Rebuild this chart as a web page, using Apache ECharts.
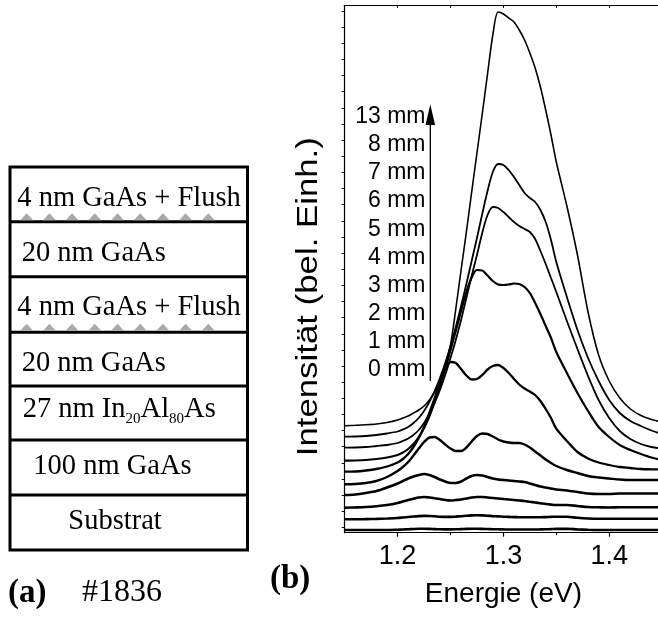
<!DOCTYPE html>
<html><head><meta charset="utf-8">
<script src="https://cdn.jsdelivr.net/npm/echarts@6/dist/echarts.min.js"></script>
<style>html,body{margin:0;padding:0;background:#fff}#c{width:658px;height:617px}</style>
</head><body><div id="c"></div>
<script>
// ---------- data ----------
const energy = [1.15,1.16,1.17,1.18,1.19,1.20,
  1.205,1.21,1.215,1.22,1.225,1.23,1.235,1.24,1.245,1.25,
  1.255,1.26,1.265,1.27,1.275,1.28,1.285,1.29,1.295,1.30,
  1.305,1.31,1.315,1.32,1.325,1.33,1.335,1.34,1.345,1.35,
  1.36,1.37,1.38,1.39,1.40,1.41,1.42,1.43,1.44,1.45];

const pl0mm = [0,0,0,0,0,0.3, 0.5,0.7,1,1.2,1.2,1.1,0.9,0.7,0.6,0.6, 0.7,0.9,1.1,1.2,1.2,1.1,1,0.8,0.7,0.6, 0.5,0.5,0.5,0.5,0.5,0.5,0.6,0.7,0.9,1.1, 1.2,0.6,0.2,0,0,0,0,0,0,0];
const pl1mm = [0,0,0.2,0.4,0.8,1.3, 1.8,2.3,2.8,3.2,3.4,3.3,3,2.6,2.4,2.4, 2.7,3.1,3.6,3.9,4,3.9,3.6,3.2,2.9,2.6, 2.4,2.2,2.1,2,2,2,2.1,2.2,2.4,2.6, 2.5,1.5,0.8,0.5,0.5,0.5,0.5,0.5,0.5,0.5];
const pl2mm = [0,0.3,0.7,1.5,2.7,4.7, 6.2,7.7,9,10.2,10.7,10.2,9.5,8.7,7.7,7.2, 7.7,8.2,9.2,10.2,10.7,10.7,10.2,9.7,9.2,8.7, 8.2,7.7,7.2,6.7,5.9,5.2,4.5,3.7,3.1,2.7, 2.7,1.7,0.7,0.4,0.2,0.5,0.5,0.5,0.5,0.5];
const pl3mm = [0,0.5,2,4,7.5,11.5, 14,16.5,18.5,20,21,20,18,15.5,13.5,12, 12,13.5,16.5,19,20,19.5,18,16.5,15.5,15, 14.5,14,13.5,13,11.5,10,8.5,7.5,6.5,5.5, 4.5,3,1.5,1,1,1.5,1.5,1.5,1.5,1.5];
const pl4mm = [0,0.3,1.3,3.3,7.3,13.3, 17.3,22.3,28.8,35.8,42.3,46.8,47.3,44.3,39.8,35.8, 33.3,33.3,36.8,42.8,48.3,50.8,50.3,47.8,44.8,42.8, 41.8,41.3,41.3,39.8,36.8,32.8,28.8,24.8,21.3,18.3, 14.3,11.3,8.3,6.8,5.8,4.8,4.3,4.3,4.3,4.3];
const pl5mm = [0,0.2,1.2,2.7,5.2,9.2, 12.7,17.7,24.7,33.7,44.7,58.7,73.7,89.7,102.7,109.7, 108.7,102.7,96.2,92.2,92.7,96.7,102.2,105.7,106.7,103.7, 98.7,92.7,87.2,83.2,80.2,76.7,70.7,62.7,53.7,43, 30.7,19.7,13.2,9.2,6.7,4.7,3.7,2.7,2.4,2.2];
const pl6mm = [0,0.2,0.7,1.7,3.2,5.7, 8.2,11.7,16.7,23.7,32.7,44.2,58.7,74.7,91.7,110.7, 129.7,149.7,168.7,183.2,190.7,190.2,185.2,179.7,176.2,175.7, 176.2,177.2,176.7,173.7,167.7,157.7,146.7,134.7,122.7,108.7, 87.7,67.7,49.7,33.7,23.7,15.7,10.7,6.7,3.2,0.7];
const pl7mm = [0,0.2,0.7,1.7,2.7,4.7, 6.7,9.2,12.7,17.7,24.7,33.7,44.7,57.7,72.7,89.7, 107.7,127.7,149.7,171.7,192.7,214.7,232.7,240.7,239.7,235.7, 230.7,225.7,221.7,218.7,215.7,208.7,196.7,183.7,169.7,155.7, 126.7,98.7,71.7,47.7,29.7,16.7,8.7,3.7,0.7,-0.8];
const pl8mm = [0,0.2,0.7,1.7,3.2,5.2, 7.2,9.7,13.7,18.7,25.7,34.7,45.7,58.7,73.7,90.7, 109.7,130.7,152.7,175.7,198.7,222.7,245.7,264.7,272.7,271.7, 266.7,259.7,251.7,243.7,238.7,234.7,226.7,214.7,196.7,174.7, 139.7,106.7,78.7,55.7,36.7,23.7,15.7,10.7,6.2,2.7];
const pl13mm = [0,0.4,0.9,1.7,3.2,5.7, 7.7,9.7,12.7,15.7,19.7,25.7,33.7,43.7,59.7,80.7, 116.7,155.7,193.7,233.7,272.7,311.7,351.7,390.7,413.7,411.7, 407.7,403.7,395.7,385.7,372.7,357.7,338.7,315.7,290.7,263.7, 219.7,170.7,113.7,70.7,44.7,27.7,16.7,10.2,6.2,3.7];

// vertical offset of each spectrum (arbitrary units)
const offsets = [2.7, 13.4, 25, 37.7, 48.4, 61, 72, 85, 96, 107];
const positionLabels = ['13 mm','8 mm','7 mm','6 mm','5 mm','4 mm','3 mm','2 mm','1 mm','0 mm'];
const xTickLabels = [1.2, 1.3, 1.4];
const xMinorTicks = [1.25, 1.35];
const xTopTicks = [1.2, 1.25, 1.3, 1.35, 1.4];
const yTicks = [5,21,37,53.5,69.5,86,102,118,134,150,166.5,182.5,198.5,215,231,247,263,279.5,295.5,311.5,328,344,360,376,392.5,408.5,424.5,441,457,473,489,505.5,521.5];
const layerNames = ['4 nm GaAs + Flush','20 nm GaAs','4 nm GaAs + Flush','20 nm GaAs','{m|27 nm In}{s|20}{m|Al}{s|80}{m|As}','100 nm GaAs','Substrat'];
const sampleName = '#1836';

// ---------- chart ----------
const curves = [pl0mm, pl1mm, pl2mm, pl3mm, pl4mm, pl5mm, pl6mm, pl7mm, pl8mm, pl13mm];
const widths = [2.6,2.6,2.6,2.6,2.4,2.3,2.2,1.8,1.8,1.6];

const series = curves.map((c, k) => ({
  type: 'line',
  data: energy.map((e, i) => [e, offsets[k] + c[i]]),
  showSymbol: false,
  smooth: 0.3,
  silent: true,
  lineStyle: {color: '#000', width: widths[k]},
  xAxisIndex: 0, yAxisIndex: 0
}));

const SANS = '"Liberation Sans", Arial, sans-serif';
const SERIF = '"Liberation Serif", "Times New Roman", serif';

const graphic = [];
// y axis title (slightly stretched like the reference)
graphic.push({type:'text', x:309, y:296.7, rotation:Math.PI/2, scaleX:1.2,
  style:{text:'Intensität (bel. Einh.)', font:'29px ' + SANS, fill:'#000', align:'center', verticalAlign:'middle'}});
// position labels and arrow
positionLabels.forEach((t, k) => {
  graphic.push({type:'text', x:425.5, y:116.7 + k*28.15,
    style:{text:t, font:'23px ' + SANS, fill:'#000', align:'right', verticalAlign:'middle'}});
});
graphic.push({type:'line', shape:{x1:430.3, y1:381, x2:430.3, y2:120}, style:{stroke:'#000', lineWidth:1.3}});
graphic.push({type:'polygon', shape:{points:[[430.3,104.5],[425.5,125],[435.1,125]]}, style:{fill:'#000'}});

// left panel: layer stack
const boxL = 10, boxR = 247.5;
const bounds = [167, 221.7, 276.7, 332.3, 386, 440, 495, 550];
graphic.push({type:'rect', shape:{x:boxL, y:bounds[0], width:boxR-boxL, height:bounds[7]-bounds[0]},
  style:{fill:'none', stroke:'#000', lineWidth:3}});
for (let i = 1; i < bounds.length - 1; i++) {
  graphic.push({type:'line', shape:{x1:boxL, y1:bounds[i], x2:boxR, y2:bounds[i]}, style:{stroke:'#000', lineWidth:3}});
}
// flush triangles under the 4 nm layers
[bounds[1], bounds[3]].forEach(yb => {
  for (let j = 0; j < 9; j++) {
    const cx = 26.7 + j*22.7;
    graphic.push({type:'polygon', shape:{points:[[cx-6.5, yb-1.5],[cx, yb-8.5],[cx+6.5, yb-1.5]]}, style:{fill:'#a9a9a9'}});
  }
});
const layerPos = [[17.3,199],[21.7,253.3],[17.3,307.5],[21.7,364],[22.7,410],[33.3,466.7],[68.3,521.7]];
layerNames.forEach((t, k) => {
  graphic.push({type:'text', x:layerPos[k][0], y:layerPos[k][1],
    style:{text:t, font:'28.5px ' + SERIF, fill:'#000', align:'left', verticalAlign:'middle',
      rich:{m:{font:'28.5px ' + SERIF, fill:'#000', lineHeight:34},
            s:{font:'15px ' + SERIF, fill:'#000', lineHeight:14, verticalAlign:'bottom'}}}});
});
graphic.push({type:'text', x:8, y:593, style:{text:'(a)', font:'bold 33px ' + SERIF, fill:'#000', align:'left', verticalAlign:'middle'}});
graphic.push({type:'text', x:82, y:592.5, style:{text:sampleName, font:'32px ' + SERIF, fill:'#000', align:'left', verticalAlign:'middle'}});
graphic.push({type:'text', x:270, y:579, style:{text:'(b)', font:'bold 33px ' + SERIF, fill:'#000', align:'left', verticalAlign:'middle'}});

const chart = echarts.init(document.getElementById('c'), null, {renderer:'canvas'});
chart.setOption({
  animation: false,
  backgroundColor: '#fff',
  grid: {left:344.7, top:5.3, right:-4.1, bottom:84.3, containLabel:false, outerBoundsMode:'none'},
  xAxis: [
    {type:'value', min:1.15, max:1.45, position:'bottom',
     axisLine:{show:true, onZero:false, lineStyle:{color:'#000', width:1.2}},
     axisTick:{show:true, inside:false, length:4, customValues:xTickLabels, lineStyle:{color:'#000', width:1.2}},
     axisLabel:{show:true, customValues:xTickLabels, formatter:v => v.toFixed(1), fontFamily:SANS, fontSize:27, color:'#000', margin:10},
     splitLine:{show:false},
     name:'Energie (eV)', nameLocation:'middle', nameGap:48,
     nameTextStyle:{fontFamily:SANS, fontSize:28, color:'#000'}},
    {type:'value', min:1.15, max:1.45, position:'bottom',
     axisLine:{show:false},
     axisTick:{show:true, inside:false, length:2.5, customValues:xMinorTicks, lineStyle:{color:'#000', width:1.2}},
     axisLabel:{show:false}, splitLine:{show:false}},
    {type:'value', min:1.15, max:1.45, position:'top',
     axisLine:{show:true, onZero:false, lineStyle:{color:'#000', width:1}},
     axisTick:{show:true, inside:true, length:2.5, customValues:xTopTicks, lineStyle:{color:'#000', width:1}},
     axisLabel:{show:false}, splitLine:{show:false}}
  ],
  yAxis: [
    {type:'value', min:0, max:527.4, position:'left',
     axisLine:{show:true, onZero:false, lineStyle:{color:'#000', width:1.2}},
     axisTick:{show:true, inside:false, length:3, customValues:yTicks, lineStyle:{color:'#000', width:1}},
     axisLabel:{show:false}, splitLine:{show:false}}
  ],
  series: series,
  graphic: graphic
});
</script></body></html>
